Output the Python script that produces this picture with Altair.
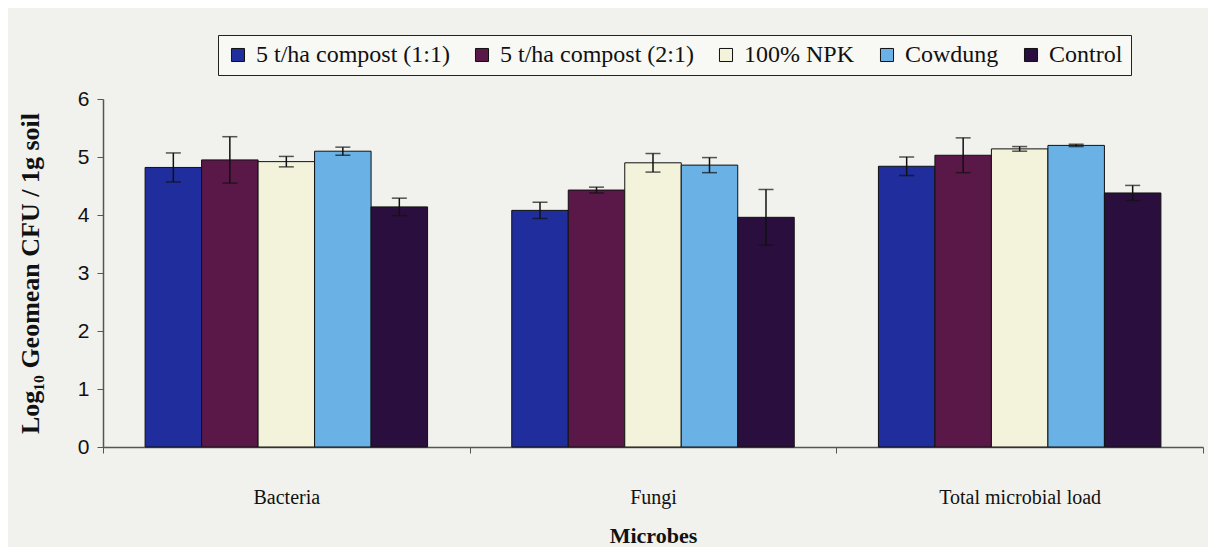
import altair as alt
import pandas as pd

categories = ["Bacteria", "Fungi", "Total microbial load"]
treatments = ["5 t/ha compost (1:1)", "5 t/ha compost (2:1)", "100% NPK", "Cowdung", "Control"]
colors = ["#1f2e9c", "#5a1848", "#f3f3dc", "#6ab2e6", "#2a0f3e"]

# values per treatment, ordered as categories
v_c11 = [4.82, 4.08, 4.84]
v_c21 = [4.95, 4.43, 5.03]
v_npk = [4.92, 4.90, 5.14]
v_cow = [5.10, 4.86, 5.20]
v_ctl = [4.14, 3.96, 4.38]

e_c11 = [0.25, 0.14, 0.16]
e_c21 = [0.40, 0.05, 0.30]
e_npk = [0.09, 0.16, 0.04]
e_cow = [0.07, 0.13, 0.02]
e_ctl = [0.15, 0.48, 0.13]

vals = [v_c11, v_c21, v_npk, v_cow, v_ctl]
errs = [e_c11, e_c21, e_npk, e_cow, e_ctl]

rows = []
for t, vs, es in zip(treatments, vals, errs):
    for c, v, e in zip(categories, vs, es):
        rows.append({"Microbes": c, "Treatment": t, "value": v, "lo": v - e, "hi": v + e})
df = pd.DataFrame(rows)

serif = "Liberation Serif"
sans = "Liberation Sans"

x_scale = alt.Scale(paddingInner=0, paddingOuter=0)
x_enc = alt.X(
    "Microbes:N",
    sort=categories,
    scale=x_scale,
    axis=alt.Axis(
        title="Microbes",
        titleFont=serif,
        titleFontSize=22,
        titleFontWeight="bold",
        titleColor="#111",
        titlePadding=18,
        labelFont=serif,
        labelFontSize=20,
        labelColor="#111",
        labelAngle=0,
        labelPadding=34,
        tickBand="extent",
        ticks=True,
        tickSize=6,
        tickColor="#555",
        domainColor="#555",
        domainWidth=1.5,
    ),
)
xoff = alt.XOffset(
    "Treatment:N",
    sort=treatments,
    scale=alt.Scale(paddingInner=0, paddingOuter=0.745),
)

y_scale = alt.Scale(domain=[0, 6], nice=False)

bars = alt.Chart(df).mark_bar(stroke="#111", strokeWidth=1).encode(
    x=x_enc,
    xOffset=xoff,
    y=alt.Y(
        "value:Q",
        scale=y_scale,
        axis=alt.Axis(
            title="Log₁₀ Geomean CFU / 1g soil",
            titleFont=serif,
            titleFontSize=26,
            titleFontWeight="bold",
            titleColor="#111",
            titlePadding=34,
            values=[0, 1, 2, 3, 4, 5, 6],
            format="d",
            labelFont=sans,
            labelFontSize=21,
            labelColor="#111",
            labelPadding=8,
            grid=False,
            tickSize=6,
            tickColor="#555",
            domainColor="#555",
            domainWidth=1.5,
        ),
    ),
    color=alt.Color(
        "Treatment:N",
        sort=treatments,
        scale=alt.Scale(domain=treatments, range=colors),
        legend=alt.Legend(
            title=None,
            orient="none",
            legendX=115,
            legendY=-64,
            direction="horizontal",
            symbolType="square",
            symbolSize=170,
            symbolStrokeColor="#111",
            symbolStrokeWidth=1,
            labelFont=serif,
            labelFontSize=24,
            labelLimit=500,
            labelColor="#111",
            labelOffset=6,
            columnPadding=20,
            strokeColor="#222",
            padding=8,
            fillColor="#f8f8f4",
        ),
    ),
)

rules = alt.Chart(df).mark_rule(color="#111", strokeWidth=1.5).encode(
    x=alt.X("Microbes:N", sort=categories),
    xOffset=xoff,
    y=alt.Y("lo:Q", scale=y_scale),
    y2="hi:Q",
)
cap_hi = alt.Chart(df).mark_tick(color="#111", thickness=1.5, size=15).encode(
    x=alt.X("Microbes:N", sort=categories),
    xOffset=xoff,
    y=alt.Y("hi:Q", scale=y_scale),
)
cap_lo = alt.Chart(df).mark_tick(color="#111", thickness=1.5, size=15).encode(
    x=alt.X("Microbes:N", sort=categories),
    xOffset=xoff,
    y=alt.Y("lo:Q", scale=y_scale),
)

chart = (
    alt.layer(bars, rules, cap_hi, cap_lo)
    .properties(
        width=1100,
        height=348,
        autosize=alt.AutoSizeParams(type="none"),
        padding={"left": 95, "top": 91, "right": 5, "bottom": 100},
        background="#f1f1ed",
    )
    .configure_view(stroke=None)
)

chart.save("out.html", embed_options={"renderer": "svg", "actions": False})
